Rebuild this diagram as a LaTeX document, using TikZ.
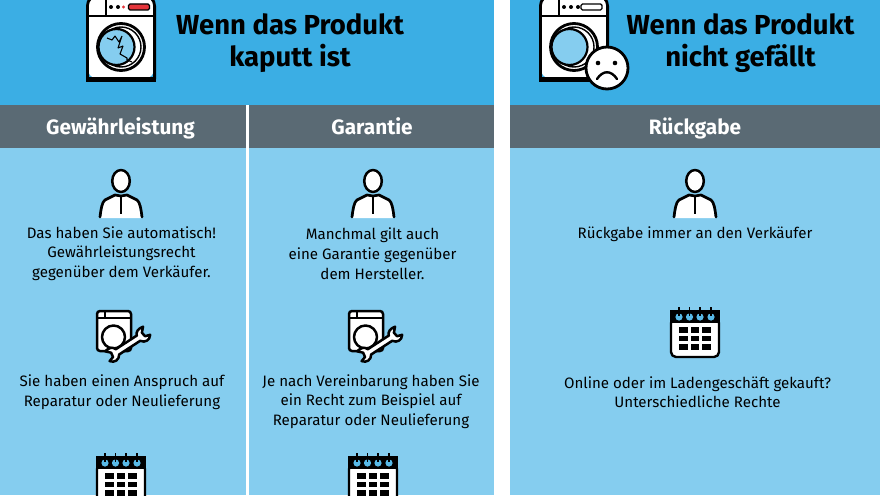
\documentclass[tikz,border=0pt]{standalone}
\usepackage{fontspec}
\setmainfont{Fira Sans}
\definecolor{bandblue}{HTML}{3BAEE4}
\definecolor{lightblue}{HTML}{85CDEF}
\definecolor{headgray}{HTML}{5A6A74}
\definecolor{redlamp}{HTML}{E5343A}
\tikzset{
  x=1pt,y=-1pt,
  titletext/.style={font=\bfseries\fontsize{27.5}{31.5}\selectfont,align=center,text=black,inner sep=0pt},
  headtext/.style={font=\fontsize{20.8}{22}\selectfont\bfseries,text=white,inner sep=0pt,anchor=base},
  bodytext/.style={font=\fontsize{15.1}{19.6}\selectfont,align=center,text=black,inner sep=0pt},
  ico/.style={draw=black,line width=2.5pt,line join=round,fill=white},
  bigwasher/.pic={
    \fill[white,rounded corners=11pt] (1.4,79) -- (1.4,-5) -- (68.6,-5) -- (68.6,79) -- cycle;
    \draw[black,line width=2.8pt,rounded corners=11pt] (1.4,79) -- (1.4,-5) -- (68.6,-5) -- (68.6,79);
    \fill[black] (0,76.5) rectangle (70,82);
    \draw[black,line width=2.8pt] (0,16) -- (70,16);
    \draw[black,line width=2.6pt] (20,-2) -- (20,16);
    \fill[black] (25,7) circle[radius=2] (32,7) circle[radius=2];
    \draw[ico,line width=2.8pt] (35,47) circle[radius=23.5];
    \draw[black,line width=1.4pt] (35,47) circle[radius=20];
    \path[fill=lightblue,draw=black,line width=2.2pt] (30.5,47) circle[radius=18];
  },
  person/.pic={
    \fill[white] (-20,37) -- (-17,20) -- (-6,14) -- (0,15) -- (6,14) -- (17,20) -- (20,37) -- cycle;
    \draw[ico,fill=white] (0,0) ellipse[x radius=8.8,y radius=11];
    \draw[black,line width=2.7pt,line join=round,line cap=round] (-21,36) .. controls (-20,28) and (-19,21) .. (-16,19) -- (-6,14) -- (0,15) -- (6,14) -- (16,19) .. controls (19,21) and (20,28) .. (21,36);
    \draw[black,line width=2.4pt] (0,15) -- (0,33);
  },
  repairicon/.pic={
    \draw[ico,rounded corners=3pt,fill=white] (1,41) -- (1,1) -- (35,1) -- (35,41) -- cycle;
    \draw[black,line width=2.2pt] (1,8) -- (35,8);
    \draw[black,line width=1.6pt] (9,1) -- (9,8);
    \draw[ico] (17.5,27) circle[radius=11.5];
    \begin{scope}[shift={(32,35)},rotate=33,scale=0.78]
      \draw[ico] (-16,-4) -- (16,-4) .. controls (18,-9) and (22,-10.5) .. (29,-9.2) -- (23.5,-3.5) -- (24.5,2.5) -- (31,4.5) .. controls (27,10) and (20,10) .. (16,4) -- (-16,4) .. controls (-20,10) and (-27,10) .. (-31,4.5) -- (-24.5,2.5) -- (-23.5,-3.5) -- (-29,-9.2) .. controls (-22,-10.5) and (-18,-9) .. (-16,-4) -- cycle;
    \end{scope}
  },
  calendar/.pic={
    \draw[ico,line width=2.4pt,rounded corners=5pt] (1,8) rectangle (49,47);
    \fill[black] (0,0) rectangle (50,13);
    \foreach \cx in {9,19.5,30,41}{
      \fill[bandblue!85!white] (\cx,7) circle[radius=3.6];
      \draw[black,line width=1.9pt] (\cx,-3) -- (\cx,6);
    }
    \foreach \gx in {9,20.5,32}\foreach \gy in {17,25.5,34}
      \fill[black] (\gx,\gy) rectangle ++(8.5,5.8);
  }
}
\begin{document}
\begin{tikzpicture}
\path[use as bounding box] (0,0) rectangle (880,495);
\clip (0,0) rectangle (880,495);
\fill[white] (0,0) rectangle (880,495);
% bands
\fill[bandblue] (0,0) rectangle (494,105);
\fill[bandblue] (510,0) rectangle (880,105);
\fill[headgray] (0,105) rectangle (494,148);
\fill[headgray] (510,105) rectangle (880,148);
\fill[lightblue] (0,148) rectangle (494,495);
\fill[lightblue] (510,148) rectangle (880,495);
\fill[white] (246,105) rectangle (249,495);
% titles
\node[titletext] (t1) at (290,43) {Wenn das Produkt\\kaputt ist};
\node[titletext] (t2) at (740.5,43) {Wenn das Produkt\\nicht gefällt};
% headers
\node[headtext] (h1) at (120.5,134.5) {Gewährleistung};
\node[headtext] (h2) at (372,134.5) {Garantie};
\node[headtext] (h3) at (695,134.5) {Rückgabe};
% big washers
\pic at (86,0) {bigwasher};
\fill[redlamp,draw=black,line width=1.4pt,rounded corners=1.5pt] (128.5,4) rectangle (149.5,10);
\fill[redlamp] (123.5,7) circle[radius=1.6];
\draw[black,line width=1.1pt,line join=bevel] (107,38) -- (112,40) -- (115,36) -- (119,42) -- (122,36) -- (118,48) -- (123,46) -- (120,54) -- (127,58) -- (127,60) -- (132,62);
\pic at (539,0) {bigwasher};
\draw[ico,line width=1.4pt,rounded corners=1.5pt] (581,4) rectangle (602,10);
\fill[black] (578,7) circle[radius=2];
% smiley
\draw[ico,line width=2.8pt] (607,68) circle[radius=21];
\fill[black] (598,63) circle[radius=2.3] (615,63) circle[radius=2.3];
\draw[black,line width=2.4pt,line cap=round] (597,79) .. controls (603,70) and (611,70) .. (617,79);
% persons
\pic at (121,181) {person};
\pic at (373,181) {person};
\pic at (695,181) {person};
% texts
\node[bodytext] (b1) at (121.5,253.7) {Das haben Sie automatisch!\\Gewährleistungsrecht\\gegenüber dem Verkäufer.};
\node[bodytext] (b2) at (372.5,253.7) {Manchmal gilt auch\\eine Garantie gegenüber\\dem Hersteller.};
\node[bodytext] (b3) at (695,234.3) {Rückgabe immer an den Verkäufer};
\node[bodytext] (b4) at (122,392.3) {Sie haben einen Anspruch auf\\Reparatur oder Neulieferung};
\node[bodytext] (b5) at (371,401.7) {Je nach Vereinbarung haben Sie\\ein Recht zum Beispiel auf\\Reparatur oder Neulieferung};
\node[bodytext] (b6) at (697.5,392) {Online oder im Ladengeschäft gekauft?\\Unterschiedliche Rechte};
% repair icons
\pic at (96,310) {repairicon};
\pic at (348,310) {repairicon};
% calendars
\pic at (670,310) {calendar};
\pic at (96,456) {calendar};
\pic at (348,456) {calendar};
\end{tikzpicture}
\end{document}
